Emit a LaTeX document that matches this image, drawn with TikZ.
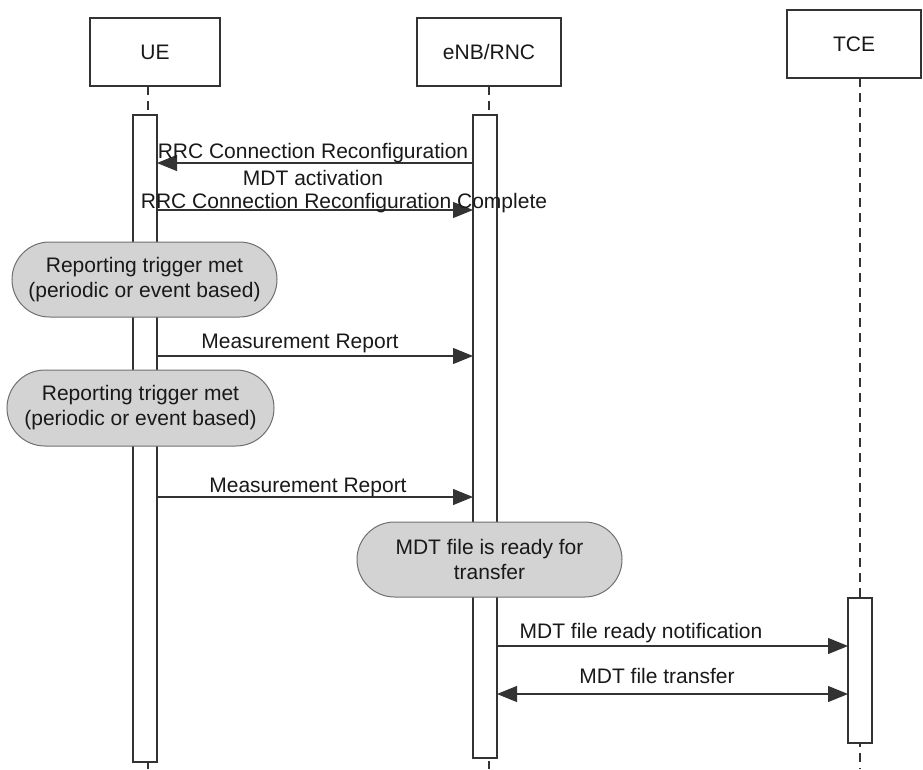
\documentclass[tikz,border=0pt]{standalone}
\usepackage{fontspec}
\setmainfont{Liberation Sans}
\usetikzlibrary{arrows.meta,shapes.misc}
\definecolor{ln}{HTML}{333333}
\definecolor{gr}{HTML}{D3D3D3}
\begin{document}
\begin{tikzpicture}[x=1pt,y=-1pt,
  every node/.style={font=\fontsize{21}{25}\selectfont, text=black!90},
  actor/.style={draw=ln, line width=1.2pt, fill=white, minimum width=#1, minimum height=68pt, inner sep=0pt},
  actbar/.style={draw=ln, line width=1.2pt, fill=white},
  life/.style={draw=ln, line width=1.1pt, dash pattern=on 9pt off 6pt},
  state/.style={draw=ln!70, line width=1pt, fill=gr, rounded rectangle, align=center, inner sep=0pt},
  msg/.style={draw=ln, line width=1.1pt, -{Triangle[length=20pt,width=16pt]}},
  msgb/.style={draw=ln, line width=1.1pt, {Triangle[length=20pt,width=16pt]}-{Triangle[length=20pt,width=16pt]}},
  lbl/.style={inner sep=0pt, anchor=base}
]
\useasboundingbox (0,0) rectangle (923,769);
% lifelines
\draw[life] (148,86) -- (148,769);
\draw[life] (489,86) -- (489,769);
\draw[life] (860,78) -- (860,769);
% actors
\node[actor=130pt] (ue) at (155,52) {UE};
\node[actor=144pt] (enb) at (489,52) {eNB/RNC};
\node[actor=134pt] (tce) at (854,44) {TCE};
% activation bars
\draw[actbar] (133,115) rectangle (157,762);
\draw[actbar] (473,115) rectangle (497,758);
\draw[actbar] (848,598) rectangle (872,743);
\coordinate (ueR1) at (157,163); \coordinate (enL1) at (473,163);
\coordinate (ueR2) at (157,210); \coordinate (enL2) at (473,210);
\coordinate (ueR3) at (157,356); \coordinate (enL3) at (473,356);
\coordinate (ueR4) at (157,497); \coordinate (enL4) at (473,497);
\coordinate (enR5) at (497,646); \coordinate (tcL5) at (848,646);
\coordinate (enR6) at (497,694); \coordinate (tcL6) at (848,694);
% messages
\draw[msg] (enL1) -- (ueR1);
\node[lbl] (t1) at (313,158) {RRC Connection Reconfiguration};
\node[lbl] (t1b) at (313,185) {MDT activation};
\draw[msg] (ueR2) -- (enL2);
\node[lbl] (t2) at (344,208) {RRC Connection Reconfiguration Complete};
% states
\node[state, minimum width=265pt, minimum height=75pt] (s1) at (144.5,279.5) {Reporting trigger met\\(periodic or event based)};
\draw[msg] (ueR3) -- (enL3);
\node[lbl] (t3) at (300,348) {Measurement Report};
\node[state, minimum width=267pt, minimum height=76pt] (s2) at (140.5,408) {Reporting trigger met\\(periodic or event based)};
\draw[msg] (ueR4) -- (enL4);
\node[lbl] (t4) at (308,492) {Measurement Report};
\node[state, minimum width=265pt, minimum height=75pt] (s3) at (489.5,559.5) {MDT file is ready for\\transfer};
\draw[msg] (enR5) -- (tcL5);
\node[lbl] (t5) at (641,638) {MDT file ready notification};
\draw[msgb] (enR6) -- (tcL6);
\node[lbl] (t6) at (657,683) {MDT file transfer};
\end{tikzpicture}
\end{document}
